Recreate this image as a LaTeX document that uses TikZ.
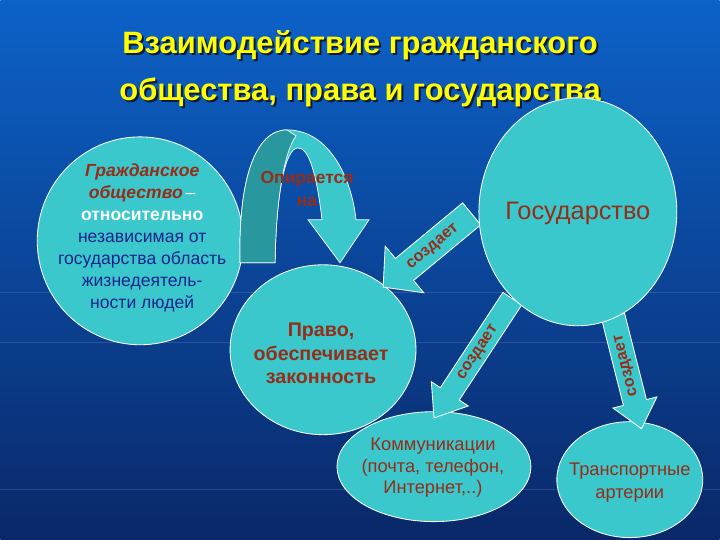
\documentclass[tikz,border=0pt]{standalone}
\usepackage{fontspec}
\setmainfont{Liberation Sans}
\usetikzlibrary{shapes.geometric,shapes.arrows}

\definecolor{fonverh}{RGB}{12,98,200}
\definecolor{fonsered}{RGB}{10,70,158}
\definecolor{fonniz}{RGB}{10,40,105}
\definecolor{biryuza}{RGB}{58,200,205}
\definecolor{biryuzatemn}{RGB}{40,152,158}
\definecolor{krasny}{RGB}{150,45,25}
\definecolor{siniy}{RGB}{25,35,140}
\definecolor{zholty}{RGB}{255,255,0}
\definecolor{ten}{RGB}{15,25,55}

\begin{document}
\begin{tikzpicture}[x=0.025cm, y=-0.025cm,
    krug/.style={ellipse, draw=white, line width=0.6pt, fill=biryuza, inner sep=0pt},
    nadpis/.style={align=center, text=krasny},
    strelka/.style={single arrow, draw=white, line width=0.6pt, fill=biryuza, text=krasny,
        font=\bfseries\fontsize{11.5}{12}\selectfont, text height=8pt, text depth=2.5pt,
        shape border rotate=180, inner xsep=0pt},
    zagolovok/.style={align=center, font=\bfseries\fontsize{22}{33.3}\selectfont}
  ]
  % fon
  \shade[top color=fonverh, middle color=fonsered, bottom color=fonniz] (0,0) rectangle (720,540);
  \foreach \yy in {293,343,490}
    \draw[white, opacity=0.12] (0,\yy) -- (720,\yy);

  % zagolovok
  \node[zagolovok, text=ten] (zag-ten) at (362,71) {Взаимодействие гражданского\\общества, права и государства};
  \node[zagolovok, text=zholty] (zag) at (360,69) {Взаимодействие гражданского\\общества, права и государства};

  % grazhdanskoe obshchestvo
  \node[krug, minimum width=5.15cm, minimum height=5.2cm] (obshchestvo) at (140,241) {};
  \node[align=center, text=siniy, font=\fontsize{12.5}{15.6}\selectfont] (obshchestvo-t) at (142,238)
    {{\bfseries\itshape\color{krasny}Гражданское}\\
     {\bfseries\itshape\color{krasny}общество}{\color{white}\,–}\\
     {\bfseries\color{white}относительно}\\
     независимая от\\ государства область\\ жизнедеятель-\\ ности людей};

  % opiraetsya na
  \fill[biryuza, draw=white, line width=0.5pt] (240,263) .. controls (238,180) and (255,130) .. (287,130)
    .. controls (330,130) and (352,180) .. (356,220) -- (369,220) -- (340,263) -- (308,220) -- (322,220)
    .. controls (316,170) and (308,148) .. (298,148) .. controls (285,148) and (276,195) .. (275,263) -- cycle;
  \fill[biryuzatemn, draw=white, line width=0.5pt] (240,263) .. controls (238,180) and (255,130) .. (287,130)
    -- (296,136) .. controls (284,152) and (276,200) .. (275,263) -- cycle;
  \node[nadpis, font=\bfseries\fontsize{12.4}{16}\selectfont] (opora) at (307,189) {Опирается\\на};

  % pravo i prochee
  \node[krug, minimum width=4.65cm, minimum height=4.25cm] (pravo) at (323,350) {};
  \node[nadpis, font=\bfseries\fontsize{14}{16.7}\selectfont] (pravo-t) at (321,354)
    {Право,\\обеспечивает\\законность};

  \node[krug, minimum width=4.85cm, minimum height=2.75cm] (kommunikacii) at (434,467) {};
  \node[nadpis, font=\fontsize{13}{15}\selectfont] (kommunikacii-t) at (433,468)
    {Коммуникации\\(почта, телефон,\\Интернет,..)};

  \node[krug, minimum width=3.65cm, minimum height=2.9cm] (transport) at (630,480) {};
  \node[nadpis, font=\fontsize{13}{16}\selectfont] (transport-t) at (630,483)
    {Транспортные\\артерии};

  % sozdaet
  \node[strelka, rotate=39.6, minimum height=2.875cm, inner ysep=4.6pt,
        single arrow head extend=0.4cm, single arrow tip angle=95] (sozd1) at (432.5,246.5) {создает};
  \node[strelka, rotate=56.7, minimum height=3.57cm, inner ysep=2.5pt,
        single arrow head extend=0.27cm, single arrow tip angle=75] (sozd2) at (477.3,352.4) {создает};
  \node[strelka, rotate=104.2, minimum height=2.9cm, inner ysep=2.9pt,
        single arrow head extend=0.27cm, single arrow tip angle=80] (sozd3) at (625.8,365.9) {создает};

  % gosudarstvo
  \node[krug, minimum width=4.95cm, minimum height=5.7cm] (gosudarstvo) at (578,212) {};
  \node[nadpis, font=\fontsize{18}{20}\selectfont] (gosudarstvo-t) at (578,214) {Государство};
\end{tikzpicture}
\end{document}
